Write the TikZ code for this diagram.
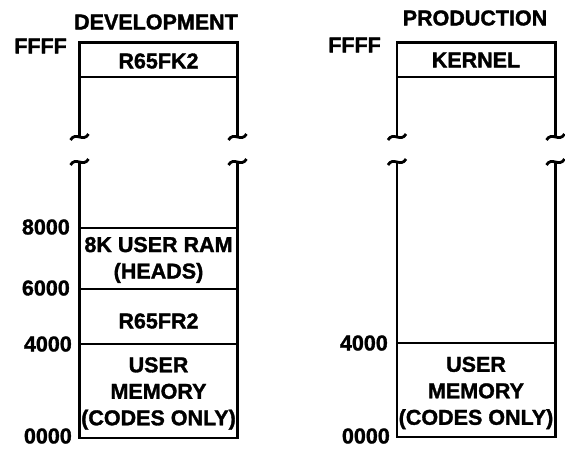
\documentclass[tikz,border=0pt]{standalone}
\usepackage{fontspec}
\setmainfont{Liberation Sans}[BoldFeatures={FakeBold=1.5}]
\usetikzlibrary{arrows.meta}

\tikzset{
  wall/.style={line width=2.9pt, line join=miter},
  txt/.style={font=\fontsize{21.5}{26.5}\selectfont\bfseries, align=center, inner sep=0pt},
  addr/.style={font=\fontsize{21.5}{24}\selectfont\bfseries, anchor=east, inner sep=0pt},
  brk/.pic={\draw[line width=2.8pt] (-9,3) .. controls (-4,-6) and (4,6) .. (9,-3);}
}

\begin{document}
\begin{tikzpicture}[x=1pt, y=-1pt]
\useasboundingbox (0,0) rectangle (565,448);

% Development column
\draw[wall] (79.5,137) -- (79.5,42.5) -- (237.5,42.5) -- (237.5,137);
\draw[wall] (79.5,162) -- (79.5,438) -- (237.5,438) -- (237.5,162);
\foreach \y in {77, 228, 289, 344}
  \draw[wall] (79.5,\y) -- (237.5,\y);
\pic at (79.5,137) {brk};
\pic at (237.5,137) {brk};
\pic at (79.5,162) {brk};
\pic at (237.5,162) {brk};

% Production column
\draw[wall] (397,137) -- (397,42.5) -- (555.5,42.5) -- (555.5,137);
\draw[wall] (397,162) -- (397,437) -- (555.5,437) -- (555.5,162);
\foreach \y in {77, 343}
  \draw[wall] (397,\y) -- (555.5,\y);
\pic at (397,137) {brk};
\pic at (555.5,137) {brk};
\pic at (397,162) {brk};
\pic at (555.5,162) {brk};

% Titles
\node[txt] (dev) at (156,22) {DEVELOPMENT};
\node[txt] (prod) at (475,18) {PRODUCTION};

% Segments
\node[txt] (k2) at (158.5,61) {R65FK2};
\node[txt] (ram) at (158.5,260) {8K USER RAM\\(HEADS)};
\node[txt] (r2) at (158.5,321) {R65FR2};
\node[txt] (mem) at (158.5,393.5) {USER\\MEMORY\\(CODES ONLY)};
\node[txt] (kern) at (476,60) {KERNEL};
\node[txt] (pmem) at (476,393) {USER\\MEMORY\\(CODES ONLY)};

% Addresses
\node[addr] (dff) at (67,46) {FFFF};
\node[addr] (d8) at (70,227) {8000};
\node[addr] (d6) at (70,288) {6000};
\node[addr] (d4) at (72,344) {4000};
\node[addr] (d0) at (72,436) {0000};
\node[addr] (pff) at (381,45) {FFFF};
\node[addr] (p4) at (388,343) {4000};
\node[addr] (p0) at (390,436) {0000};
\end{tikzpicture}
\end{document}
